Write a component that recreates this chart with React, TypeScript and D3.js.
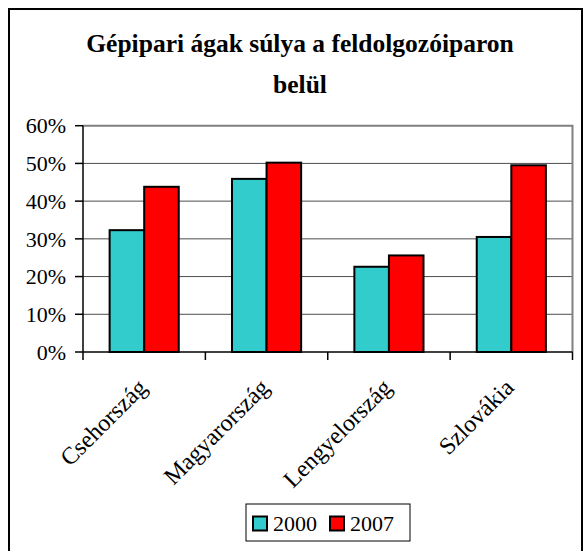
import * as d3 from 'd3';

const categories = ['Csehország', 'Magyarország', 'Lengyelország', 'Szlovákia'];
const seriesNames = ['2000', '2007'];
const values2000 = [0.323, 0.459, 0.226, 0.305];
const values2007 = [0.438, 0.502, 0.256, 0.495];
const seriesColors = ['#33CCCC', '#FF0000'];
const yTicks = [0, 0.1, 0.2, 0.3, 0.4, 0.5, 0.6];
const titleLines = ['Gépipari ágak súlya a feldolgozóiparon', 'belül'];

const W = 584, H = 551;
const plot = { left: 83, right: 572.5, top: 125.7, bottom: 352 };
const FONT = '"Liberation Serif", "Times New Roman", serif';

export default function App() {
  const x = d3.scaleBand().domain(categories).range([plot.left, plot.right]).padding(0);
  const inner = d3.scaleBand().domain(seriesNames).range([0, x.bandwidth()]).paddingInner(0).paddingOuter(0.77);
  const y = d3.scaleLinear().domain([0, 0.6]).range([plot.bottom, plot.top]);
  const fmt = d3.format('.0%');
  const series = [values2000, values2007];
  const boundaries = categories.map(c => x(c)!).concat([plot.right]);

  // legend box, centred under the plot
  const legendX = 246, legendY = 504, legendW = 164, legendH = 37;

  return (
    <div style={{ position: 'absolute', left: 0, top: 0 }}>
      <svg width={W} height={H} style={{ display: 'block', fontFamily: FONT }}>
        <rect x={0} y={0} width={W} height={H} fill="#fff" />
        {/* chart frame */}
        <rect x={9} y={9} width={573} height={580} fill="none" stroke="#000" strokeWidth={2} />

        {/* title */}
        {titleLines.map((t, i) => (
          <text key={t} x={300} y={52 + i * 41} textAnchor="middle" fontSize={25.5} fontWeight="bold" fill="#000" fontFamily={FONT}>{t}</text>
        ))}

        {/* gridlines */}
        {yTicks.slice(1, -1).map(t => (
          <line key={t} x1={plot.left} x2={plot.right} y1={y(t)} y2={y(t)} stroke="#4d4d4d" strokeWidth={1} />
        ))}
        {/* plot border top/right */}
        <path d={`M${plot.left},${y(0.6)}H${plot.right}V${plot.bottom}`} fill="none" stroke="#808080" strokeWidth={2} />

        {/* bars */}
        {series.map((vals, si) => vals.map((v, ci) => (
          <rect key={`${si}-${ci}`}
            x={x(categories[ci])! + inner(seriesNames[si])!}
            y={y(v)}
            width={inner.bandwidth()}
            height={y(0) - y(v)}
            fill={seriesColors[si]} stroke="#000" strokeWidth={2} />
        )))}

        {/* y axis */}
        <line x1={plot.left} x2={plot.left} y1={plot.top} y2={plot.bottom} stroke="#000" strokeWidth={1.5} />
        {yTicks.map(t => (
          <g key={t}>
            <line x1={plot.left - 8} x2={plot.left} y1={y(t)} y2={y(t)} stroke="#000" strokeWidth={1.5} />
            <text x={66} y={y(t)} dy="0.35em" textAnchor="end" fontSize={22} fill="#000" fontFamily={FONT}>{fmt(t)}</text>
          </g>
        ))}

        {/* x axis */}
        <line x1={plot.left} x2={plot.right} y1={plot.bottom} y2={plot.bottom} stroke="#000" strokeWidth={1.5} />
        {boundaries.map((b, i) => (
          <line key={i} x1={b} x2={b} y1={plot.bottom} y2={plot.bottom + 8} stroke="#000" strokeWidth={1.5} />
        ))}
        {categories.map(c => {
          const cx = x(c)! + x.bandwidth() / 2 + 4;
          const cy = plot.bottom + 37;
          return (
            <text key={c} x={cx} y={cy} transform={`rotate(-45,${cx},${cy})`} textAnchor="end" fontSize={24} fill="#000" fontFamily={FONT}>{c}</text>
          );
        })}

        {/* legend */}
        <rect x={legendX} y={legendY} width={legendW} height={legendH} fill="#fff" stroke="#000" strokeWidth={1} />
        {seriesNames.map((s, i) => {
          const lx = legendX + 7 + i * 77;
          return (
            <g key={s}>
              <rect x={lx} y={legendY + 12.5} width={14} height={14} fill={seriesColors[i]} stroke="#000" strokeWidth={2} />
              <text x={lx + 20} y={legendY + 27} fontSize={22} fill="#000" fontFamily={FONT}>{s}</text>
            </g>
          );
        })}
      </svg>
    </div>
  );
}
